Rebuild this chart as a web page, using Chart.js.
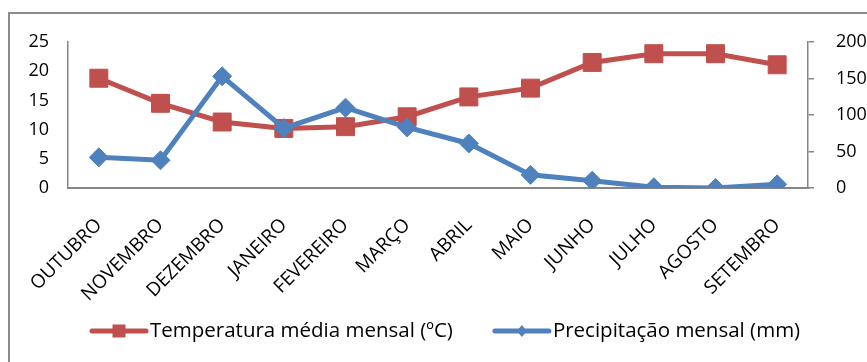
<!DOCTYPE html>
<html>
<head>
<meta charset="utf-8">
<script src="https://cdn.jsdelivr.net/npm/chart.js@4/dist/chart.umd.min.js"></script>
<style>
  html, body { margin: 0; padding: 0; background: #fff; overflow: hidden; }
  #frame { position: absolute; left: 8px; top: 12px; width: 900px; height: 400px; border: 2px solid #8c8c8c; }
  #wrap { position: absolute; left: 0; top: 0; width: 867px; height: 362px; }
</style>
</head>
<body>
<div id="frame"></div>
<div id="wrap"><canvas id="chart" width="867" height="362"></canvas></div>
<script>
const months = ['OUTUBRO', 'NOVEMBRO', 'DEZEMBRO', 'JANEIRO', 'FEVEREIRO', 'MARÇO',
  'ABRIL', 'MAIO', 'JUNHO', 'JULHO', 'AGOSTO', 'SETEMBRO'];
const temperatura = [18.8, 14.5, 11.3, 10.2, 10.5, 12.2, 15.6, 17.1, 21.5, 23.0, 23.0, 21.1];
const precipitacao = [42, 38, 153, 82, 110, 83, 61, 18, 10, 1, 0, 5];

const RED = '#C0504D';
const BLUE = '#4F81BD';
const AXIS = '#868686';
const FONT = "'Open Sans', sans-serif";

// legend drawn by hand: line with marker, then label
const legendPlugin = {
  id: 'lineLegend',
  afterDraw(chart) {
    const ctx = chart.ctx;
    const y = 331;
    let x = 90;
    ctx.save();
    ctx.font = '20.5px ' + FONT;
    ctx.textBaseline = 'middle';
    chart.data.datasets.forEach((ds, i) => {
      ctx.strokeStyle = ds.borderColor;
      ctx.lineWidth = 5;
      ctx.lineCap = 'round';
      ctx.beginPath();
      ctx.moveTo(x + 2, y);
      ctx.lineTo(x + 56, y);
      ctx.stroke();
      ctx.fillStyle = ds.borderColor;
      const cx = x + 29;
      if (ds.pointStyle === 'rect') {
        ctx.fillRect(cx - 6.5, y - 6.5, 13, 13);
      } else {
        ctx.beginPath();
        ctx.moveTo(cx, y - 6);
        ctx.lineTo(cx + 5, y);
        ctx.lineTo(cx, y + 6);
        ctx.lineTo(cx - 5, y);
        ctx.closePath();
        ctx.fill();
      }
      ctx.fillStyle = '#000';
      ctx.fillText(ds.label, x + 60, y);
      x = x + 60 + ctx.measureText(ds.label).width + 40;
    });
    ctx.restore();
  }
};

new Chart(document.getElementById('chart'), {
  type: 'line',
  data: {
    labels: months,
    datasets: [
      {
        label: 'Temperatura média mensal (ºC)',
        data: temperatura,
        yAxisID: 'y',
        borderColor: RED,
        backgroundColor: RED,
        borderWidth: 5,
        pointStyle: 'rect',
        pointRadius: 12.7,
        pointBorderWidth: 1,
        tension: 0,
        order: 1
      },
      {
        label: 'Precipitação mensal (mm)',
        data: precipitacao,
        yAxisID: 'y1',
        borderColor: BLUE,
        backgroundColor: BLUE,
        borderWidth: 5,
        pointStyle: 'rectRot',
        pointRadius: 9.5,
        pointBorderWidth: 1,
        tension: 0,
        order: 0
      }
    ]
  },
  options: {
    responsive: false,
    animation: false,
    layout: { padding: { top: 42, left: 0, right: 0, bottom: 0 } },
    plugins: { legend: { display: false }, tooltip: { enabled: false } },
    scales: {
      x: {
        offset: true,
        grid: { display: false },
        border: { display: true, color: AXIS, width: 2 },
        ticks: {
          color: '#000',
          font: { family: FONT, size: 19 },
          minRotation: 45,
          maxRotation: 45,
          autoSkip: false,
          padding: 18
        },
        afterFit(scale) { scale.height = 174; }
      },
      y: {
        position: 'left',
        min: 0,
        max: 25,
        grid: { display: false },
        border: { display: true, color: AXIS, width: 1.5 },
        ticks: { stepSize: 5, color: '#000', font: { family: FONT, size: 18 }, padding: 11 },
        afterFit(scale) { scale.width = 68; }
      },
      y1: {
        position: 'right',
        min: 0,
        max: 200,
        grid: { display: true, drawOnChartArea: false, drawTicks: true, tickLength: 6, color: AXIS, lineWidth: 1.5 },
        border: { display: true, color: AXIS, width: 1.5 },
        ticks: { stepSize: 50, color: '#000', font: { family: FONT, size: 18 }, padding: 22 },
        afterFit(scale) { scale.width = 59; }
      }
    }
  },
  plugins: [legendPlugin]
});
</script>
</body>
</html>
